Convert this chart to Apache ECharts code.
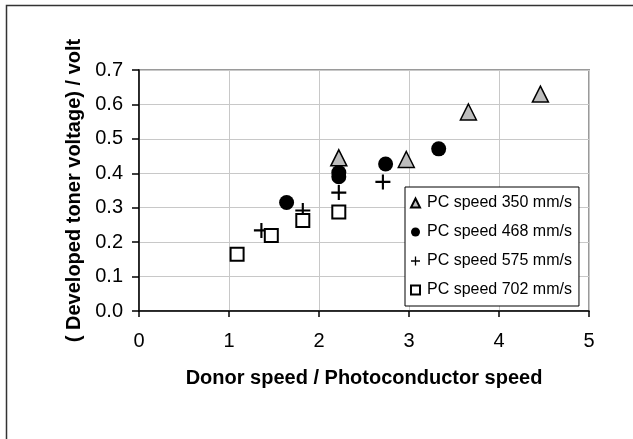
<!DOCTYPE html>
<html>
<head>
<meta charset="utf-8">
<script src="https://cdn.jsdelivr.net/npm/echarts@6/dist/echarts.min.js"></script>
<style>
  html, body { margin: 0; padding: 0; background: #fff; }
  #chart { width: 633px; height: 439px; }
</style>
</head>
<body>
<div id="chart"></div>
<script>
// Developed toner voltage against the donor / photoconductor speed ratio,
// one series per photoconductor (PC) speed.
const seriesNames = ['PC speed 350 mm/s', 'PC speed 468 mm/s', 'PC speed 575 mm/s', 'PC speed 702 mm/s'];

const ratio350 = [2.22, 2.97, 3.66, 4.46];
const volt350  = [0.445, 0.44, 0.578, 0.63];

const ratio468 = [1.64, 2.22, 2.22, 2.74, 3.33];
const volt468  = [0.315, 0.402, 0.39, 0.427, 0.471];

const ratio575 = [1.36, 1.82, 2.22, 2.71];
const volt575  = [0.234, 0.292, 0.344, 0.375];

const ratio702 = [1.09, 1.47, 1.82, 2.22];
const volt702  = [0.165, 0.219, 0.263, 0.2875];

const xAxisTitle = 'Donor speed / Photoconductor speed';
const yAxisTitle = '( Developed toner voltage) / volt';

const FONT = '"Liberation Sans", Arial, Helvetica, sans-serif';
const PLUS = 'path://M6,0H8V6H14V8H8V14H6V8H0V6H6Z';

function pairs(xs, ys) { return xs.map((x, i) => [x, ys[i]]); }

const chart = echarts.init(document.getElementById('chart'), null, { renderer: 'canvas' });

chart.setOption({
  backgroundColor: '#ffffff',
  animation: false,
  textStyle: { fontFamily: FONT, color: '#000' },
  grid: {
    left: 139, top: 70, right: 44, bottom: 128,
    show: true, borderColor: '#9a9a9a', borderWidth: 2, backgroundColor: '#fff'
  },
  graphic: [{
    type: 'polyline',
    shape: { points: [[6.5, 439], [6.5, 5.5], [633, 5.5]] },
    style: { stroke: '#333', lineWidth: 1.5, fill: null },
    silent: true
  }],
  legend: {
    orient: 'vertical',
    left: 405, top: 187,
    padding: [7, 7, 7, 5],
    itemGap: 11,
    itemWidth: 9, itemHeight: 9,
    backgroundColor: '#fff',
    borderColor: '#000', borderWidth: 1, borderRadius: 0,
    textStyle: { fontFamily: FONT, fontSize: 16, color: '#000', lineHeight: 18, padding: [0, 0, 0, 2] },
    data: seriesNames
  },
  xAxis: {
    type: 'value', min: 0, max: 5, interval: 1,
    name: xAxisTitle, nameLocation: 'middle', nameGap: 57,
    nameTextStyle: { fontFamily: FONT, fontSize: 20, fontWeight: 'bold', color: '#000' },
    axisLine: { show: true, onZero: false, lineStyle: { color: '#000', width: 1.5 } },
    axisTick: { show: true, length: 6, lineStyle: { color: '#000', width: 1.5 } },
    axisLabel: { fontFamily: FONT, fontSize: 20, color: '#000', margin: 20 },
    splitLine: { show: true, lineStyle: { color: '#c8c8c8', width: 1 } }
  },
  yAxis: {
    type: 'value', min: 0, max: 0.7, interval: 0.1,
    name: yAxisTitle, nameLocation: 'middle', nameGap: 55, nameRotate: 90,
    nameTextStyle: { fontFamily: FONT, fontSize: 20, fontWeight: 'bold', color: '#000' },
    axisLine: { show: true, onZero: false, lineStyle: { color: '#000', width: 1.5 } },
    axisTick: { show: true, length: 7, lineStyle: { color: '#000', width: 1.5 } },
    axisLabel: { fontFamily: FONT, fontSize: 20, color: '#000', margin: 16,
                 formatter: v => v.toFixed(1) },
    splitLine: { show: true, lineStyle: { color: '#c8c8c8', width: 1 } }
  },
  series: [
    {
      name: seriesNames[0], type: 'scatter', data: pairs(ratio350, volt350),
      symbol: 'triangle', symbolSize: 16,
      itemStyle: { color: '#bdbdbd', borderColor: '#000', borderWidth: 1.5, opacity: 1 }
    },
    {
      name: seriesNames[1], type: 'scatter', data: pairs(ratio468, volt468),
      symbol: 'circle', symbolSize: 15,
      itemStyle: { color: '#000', borderColor: '#000', borderWidth: 0, opacity: 1 }
    },
    {
      name: seriesNames[2], type: 'scatter', data: pairs(ratio575, volt575),
      symbol: PLUS, symbolSize: 15,
      itemStyle: { color: '#000', borderWidth: 0, opacity: 1 }
    },
    {
      name: seriesNames[3], type: 'scatter', data: pairs(ratio702, volt702),
      symbol: 'rect', symbolSize: 13,
      itemStyle: { color: '#fff', borderColor: '#000', borderWidth: 2, opacity: 1 }
    }
  ]
});
</script>
</body>
</html>
